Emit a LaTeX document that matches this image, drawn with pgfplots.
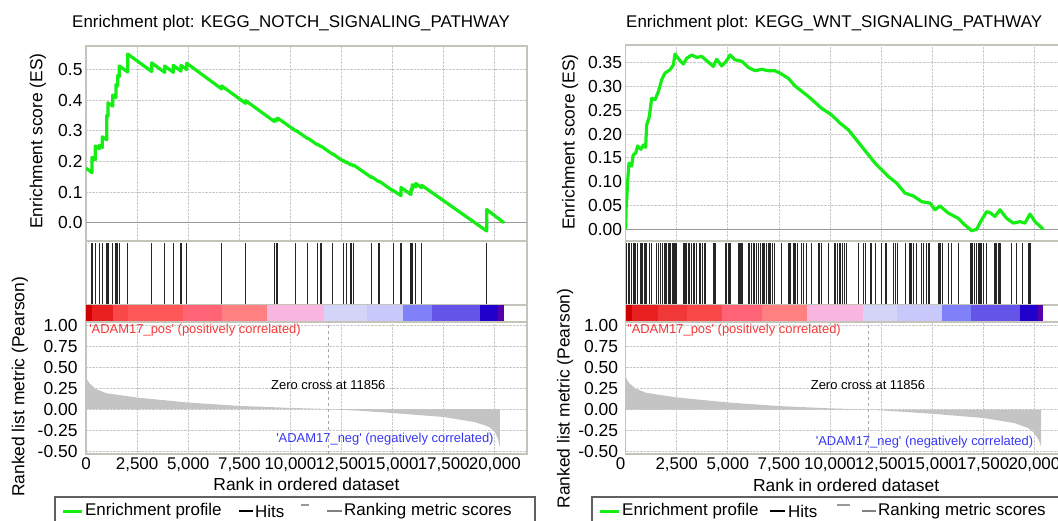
\documentclass[border=0pt]{standalone}
\usepackage{pgfplots}
\pgfplotsset{compat=1.18}
\usepackage{fontspec}
\setmainfont{Liberation Sans}

\definecolor{framecol}{RGB}{196,196,186}
\definecolor{gridcol}{RGB}{200,200,200}
\definecolor{esgreen}{RGB}{20,238,20}
\definecolor{metricgray}{RGB}{196,196,196}
\definecolor{posred}{RGB}{245,55,55}
\definecolor{negblue}{RGB}{55,55,245}
\definecolor{cb1}{RGB}{208,0,0}
\definecolor{cb2}{RGB}{232,32,32}
\definecolor{cb3}{RGB}{240,56,56}
\definecolor{cb4}{RGB}{248,72,72}
\definecolor{cb5}{RGB}{255,88,88}
\definecolor{cb6}{RGB}{255,100,118}
\definecolor{cb7}{RGB}{255,128,128}
\definecolor{cb8}{RGB}{248,182,225}
\definecolor{cb9}{RGB}{212,212,248}
\definecolor{cb10}{RGB}{200,200,250}
\definecolor{cb11}{RGB}{128,128,248}
\definecolor{cb12}{RGB}{100,84,232}
\definecolor{cb13}{RGB}{34,0,204}
\definecolor{cb14}{RGB}{85,0,170}

\newcommand\cbseg[3]{\addplot[fill=#3,draw=none] coordinates {(#1,1)(#2,1)} \closedcycle;}
\newcommand\fs[1]{\fontsize{#1}{#1}\selectfont}

\pgfplotsset{
  /pgf/number format/assume math mode=true,
  gsea/.style={
    scale only axis, width=441bp, xmin=0, xmax=21575,
    axis line style={draw=framecol, line width=1.5bp},
    tick style={draw=none},
    xtick={0,2500,...,20000},
    grid=major,
    major grid style={densely dotted, gridcol, line width=0.8bp},
    yticklabel style={font=\fs{17.5}},
    xticklabel style={font=\fs{17}},
    label style={font=\fs{17.5}},
    title style={font=\fs{17}},
    scaled ticks=false,
  },
  hitsax/.style={gsea, height=64bp, ymin=0, ymax=1.03, xtick=\empty, ytick=\empty, grid=none},
  cbax/.style={gsea, height=17bp, ymin=0, ymax=1, xtick=\empty, ytick=\empty, grid=none},
}

\begin{document}
\begin{tikzpicture}

%% ---------------- left panel: NOTCH ----------------
\begin{axis}[gsea, at={(86bp,-46bp)}, anchor=north west, height=195bp,
    ymin=-0.0596, ymax=0.576,
    ytick={0,0.1,0.2,0.3,0.4,0.5},
    yticklabel style={/pgf/number format/.cd, fixed, fixed zerofill, precision=1},
    xticklabels={},
    ylabel={Enrichment score (ES)},
    ylabel style={at={(axis description cs:-0.109,0.513)}, anchor=center},
    title={Enrichment plot: KEGG\_NOTCH\_SIGNALING\_PATHWAY},
    title style={at={(axis description cs:0.465,1)}, anchor=center, yshift=17bp}]
  \addplot[gray!80, line width=1.5bp] coordinates {(0,0)(21575,0)};
  \addplot[esgreen, line width=3.2bp, line join=round] coordinates {
    (0,0.178)
    (294,0.163)(294,0.213)(457,0.205)(457,0.250)(652,0.241)(652,0.252)
    (799,0.245)(799,0.280)(1011,0.270)(1011,0.350)(1076,0.347)(1076,0.391)
    (1305,0.380)(1305,0.416)(1468,0.408)(1468,0.450)(1549,0.446)(1549,0.480)
    (1631,0.476)(1631,0.511)(2038,0.491)(2038,0.550)(3212,0.493)(3212,0.521)
    (3848,0.490)(3848,0.511)(4272,0.490)(4272,0.513)(4647,0.494)(4647,0.513)
    (4925,0.499)(4925,0.520)(6637,0.436)(6637,0.446)(7811,0.389)(7811,0.398)
    (9213,0.330)(9213,0.336)(9300,0.332)(9300,0.338)(9376,0.334)(9376,0.341)
    (10270,0.299)(10270,0.301)(10844,0.274)(10844,0.276)(11317,0.254)(11317,0.256)
    (11496,0.248)(11496,0.250)(12067,0.223)(12067,0.225)(12589,0.200)(12589,0.203)
    (12752,0.195)(12752,0.198)(12964,0.188)(12964,0.191)(13094,0.185)(13094,0.188)
    (13975,0.147)(13975,0.150)(14333,0.133)(14333,0.136)(15035,0.103)(15035,0.105)
    (15410,0.088)(15410,0.115)(15899,0.092)(15899,0.110)(15964,0.107)(15964,0.124)
    (16127,0.116)(16127,0.128)(16421,0.114)(16421,0.122)(19601,-0.027)(19601,0.043)
    (20450,0.0)};
\end{axis}

\begin{axis}[hitsax, at={(86bp,-241bp)}, anchor=north west]
  \addplot[ycomb, black!85, line width=1.1bp, mark=none] coordinates {
    (294,1)(457,1)(652,1)(799,1)(1011,1)(1076,1)(1305,1)(1468,1)(1549,1)(1631,1)
    (2038,1)(3212,1)(3848,1)(4272,1)(4647,1)(4925,1)(6637,1)(7811,1)(9213,1)(9300,1)
    (9376,1)(10270,1)(10844,1)(11317,1)(11496,1)(12067,1)(12589,1)(12752,1)(12964,1)
    (13094,1)(13975,1)(14333,1)(15035,1)(15410,1)(15899,1)(15964,1)(16127,1)(16421,1)
    (19601,1)};
\end{axis}

\begin{axis}[cbax, at={(86bp,-305bp)}, anchor=north west]
  \cbseg{0}{279}{cb1}
  \cbseg{279}{1321}{cb2}
  \cbseg{1321}{2055}{cb4}
  \cbseg{2055}{4745}{cb5}
  \cbseg{4745}{6653}{cb6}
  \cbseg{6653}{8855}{cb7}
  \cbseg{8855}{11643}{cb8}
  \cbseg{11643}{13747}{cb9}
  \cbseg{13747}{15508}{cb10}
  \cbseg{15508}{16927}{cb11}
  \cbseg{16927}{19275}{cb12}
  \cbseg{19275}{20155}{cb13}
  \cbseg{20155}{20449}{cb14}
\end{axis}

\begin{axis}[gsea, at={(86bp,-322bp)}, anchor=north west, height=132bp,
    ymin=-0.5357, ymax=1.0357,
    ytick={-0.5,-0.25,0,0.25,0.5,0.75,1},
    yticklabel style={/pgf/number format/.cd, fixed, fixed zerofill, precision=2, /tikz/xshift=-5bp},
    xticklabel style={/pgf/number format/1000 sep={,}},
    xlabel={Rank in ordered dataset},
    xlabel style={at={(axis description cs:0.5,0)}, anchor=center, yshift=-30bp},
    ylabel={Ranked list metric (Pearson)},
    ylabel style={at={(axis description cs:-0.150,0.508)}, anchor=center}]
  \addplot[fill=metricgray, draw=none] coordinates {
    (0,0.375)(100,0.33)(200,0.30)(500,0.236)(1000,0.188)(2500,0.136)(5000,0.077)
    (7500,0.037)(10000,0.013)(11856,0)(13500,-0.022)(15000,-0.048)(17500,-0.095)
    (19000,-0.155)(19700,-0.21)(20000,-0.27)(20150,-0.35)(20250,-0.46)} \closedcycle;
  \addplot[gray!70, dashed, line width=0.8bp] coordinates {(11856,-0.5357)(11856,1.0357)};
  \node[font=\fs{13}, anchor=center] at (axis cs:11856,0.29) {Zero cross at 11856};
  \node[font=\fs{13}, text=posred, anchor=west, inner sep=0pt] at (axis cs:150,0.94)
    {\textquotesingle ADAM17\_pos\textquotesingle{} (positively correlated)};
  \node[font=\fs{13}, text=negblue, anchor=east, inner sep=0pt] at (axis cs:19950,-0.36)
    {\textquotesingle ADAM17\_neg\textquotesingle{} (negatively correlated)};
\end{axis}

%% ---------------- right panel: WNT ----------------
\begin{axis}[gsea, at={(625.6bp,-45bp)}, anchor=north west, height=196bp,
    ymin=-0.0246, ymax=0.387,
    ytick={0,0.05,0.1,0.15,0.2,0.25,0.3,0.35},
    yticklabel style={/pgf/number format/.cd, fixed, fixed zerofill, precision=2},
    xticklabels={},
    ylabel={Enrichment score (ES)},
    ylabel style={at={(axis description cs:-0.126,0.505)}, anchor=center},
    title={Enrichment plot: KEGG\_WNT\_SIGNALING\_PATHWAY},
    title style={at={(axis description cs:0.473,1)}, anchor=center, yshift=16bp}]
  \addplot[gray!80, line width=1.5bp] coordinates {(0,0)(21575,0)};
  \addplot[esgreen, line width=3.2bp, line join=round] coordinates {
    (0,0)(30,0.05)(52,0.062)(100,0.100)(166,0.139)(297,0.133)(370,0.156)(492,0.160)
    (590,0.175)(753,0.168)(868,0.177)(980,0.172)(1031,0.219)(1161,0.237)(1275,0.275)
    (1438,0.272)(1601,0.289)(1764,0.314)(1927,0.328)(2172,0.335)(2335,0.345)
    (2417,0.368)(2662,0.354)(2825,0.347)(2988,0.359)(3232,0.366)(3477,0.361)
    (3721,0.363)(3966,0.354)(4292,0.342)(4455,0.357)(4699,0.343)(4912,0.352)
    (5107,0.366)(5352,0.356)(5678,0.353)(6004,0.340)(6330,0.333)(6656,0.336)
    (6982,0.333)(7308,0.333)(7552,0.328)(7961,0.317)(8287,0.301)(8939,0.279)
    (9592,0.254)(10081,0.240)(10488,0.223)(10896,0.209)(11548,0.174)(12200,0.139)
    (12853,0.111)(13260,0.097)(13668,0.076)(14076,0.070)(14484,0.058)(14891,0.055)
    (15136,0.041)(15380,0.049)(15788,0.034)(16277,0.023)(16603,0.009)(16929,-0.003)
    (17174,0.000)(17419,0.020)(17663,0.037)(17826,0.035)(18071,0.027)(18316,0.041)
    (18642,0.023)(18968,0.013)(19294,0.016)(19538,0.013)(19783,0.032)(20028,0.016)
    (20436,0.0)};
\end{axis}

\begin{axis}[hitsax, at={(625.6bp,-241bp)}, anchor=north west]
  \addplot[ycomb, black!85, line width=1.1bp, mark=none] coordinates {
    (52,1)(166,1)(297,1)(411,1)(492,1)(590,1)(753,1)(835,1)(949,1)(1031,1)(1161,1)
    (1275,1)(1520,1)(1601,1)(1715,1)(1813,1)(1927,1)(2009,1)(2090,1)(2172,1)(2286,1)
    (2351,1)(2417,1)(2466,1)(2857,1)(2955,1)(3102,1)(3232,1)(3346,1)(3477,1)(3640,1)
    (3754,1)(3884,1)(4292,1)(4373,1)(4912,1)(5026,1)(5107,1)(5548,1)(5645,1)(5727,1)
    (6037,1)(6167,1)(6281,1)(6412,1)(6493,1)(6607,1)(6689,1)(6770,1)(6901,1)(6982,1)
    (7064,1)(7178,1)(7276,1)(7635,1)(7961,1)(8042,1)(8238,1)(8320,1)(8401,1)(8613,1)
    (8695,1)(8858,1)(9102,1)(9461,1)(9592,1)(9918,1)(10244,1)(10374,1)(10488,1)
    (10603,1)(10700,1)(10815,1)(11385,1)(11630,1)(11744,1)(12005,1)(12233,1)(12527,1)
    (12739,1)(13097,1)(13212,1)(13310,1)(13701,1)(13913,1)(13994,1)(14092,1)(14239,1)
    (14484,1)(14565,1)(14728,1)(14842,1)(15299,1)(15380,1)(15495,1)(15788,1)(15951,1)
    (16277,1)(16897,1)(16962,1)(17060,1)(17174,1)(17256,1)(17337,1)(17419,1)(17500,1)
    (17663,1)(18038,1)(18120,1)(18234,1)(18316,1)(18886,1)(19131,1)(19408,1)(19702,1)
    (19783,1)};
\end{axis}

\begin{axis}[cbax, at={(625.6bp,-305bp)}, anchor=north west]
  \cbseg{0}{298}{cb1}
  \cbseg{298}{1585}{cb2}
  \cbseg{1585}{2989}{cb3}
  \cbseg{2989}{4701}{cb4}
  \cbseg{4701}{6658}{cb6}
  \cbseg{6658}{8860}{cb7}
  \cbseg{8860}{11628}{cb8}
  \cbseg{11628}{13262}{cb9}
  \cbseg{13262}{15464}{cb10}
  \cbseg{15464}{16897}{cb11}
  \cbseg{16897}{19294}{cb12}
  \cbseg{19294}{20189}{cb13}
  \cbseg{20189}{20434}{cb14}
\end{axis}

\begin{axis}[gsea, at={(625.6bp,-322bp)}, anchor=north west, height=132bp,
    ymin=-0.53, ymax=1.045,
    ytick={-0.5,-0.25,0,0.25,0.5,0.75,1},
    yticklabel style={/pgf/number format/.cd, fixed, fixed zerofill, precision=2, /tikz/xshift=-4bp},
    xticklabels={{\hspace*{-10bp}\raisebox{-4bp}{0}},{2,500},{5,000},{7,500},{10,000},{12,500},{15,000},{17,500},{20,000}},
    xlabel={Rank in ordered dataset},
    xlabel style={at={(axis description cs:0.5,0)}, anchor=center, yshift=-31bp},
    ylabel={Ranked list metric (Pearson)},
    ylabel style={at={(axis description cs:-0.137,0.42)}, anchor=center}]
  \addplot[fill=metricgray, draw=none] coordinates {
    (0,0.40)(100,0.34)(200,0.31)(500,0.25)(1000,0.20)(2500,0.145)(5000,0.085)
    (7500,0.042)(10000,0.015)(11856,0)(13500,-0.025)(15000,-0.05)(17500,-0.10)
    (19000,-0.16)(19700,-0.22)(20000,-0.28)(20200,-0.36)(20330,-0.44)} \closedcycle;
  \addplot[gray!70, dashed, line width=0.8bp] coordinates {(11856,-0.53)(11856,1.045)};
  \node[font=\fs{13}, anchor=center] at (axis cs:11856,0.29) {Zero cross at 11856};
  \node[font=\fs{13}, text=posred, anchor=west, inner sep=0pt] at (axis cs:80,0.95)
    {"ADAM17\_pos\textquotesingle{} (positively correlated)};
  \node[font=\fs{13}, text=negblue, anchor=east, inner sep=0pt] at (axis cs:19950,-0.39)
    {\textquotesingle ADAM17\_neg\textquotesingle{} (negatively correlated)};
\end{axis}

%% ---------------- legends ----------------
\begin{scope}[font=\fs{17}]
  \draw[gray!75!black, line width=1.3bp] (55bp,-497bp) rectangle (535bp,-560bp);
  \draw[esgreen, line width=3bp] (63bp,-511bp) -- (82bp,-511bp);
  \node[anchor=west, inner sep=0pt] at (85bp,-511bp) {Enrichment profile};
  \draw[black, line width=2.5bp] (239bp,-511bp) -- (253bp,-511bp);
  \node[anchor=west, inner sep=0pt] at (255bp,-511bp) {Hits};
  \draw[gray!80, line width=2bp] (301bp,-505bp) -- (309bp,-505bp);
  \draw[gray, line width=2.5bp] (327bp,-511bp) -- (342bp,-511bp);
  \node[anchor=west, inner sep=0pt] at (344bp,-511bp) {Ranking metric scores};

  \draw[gray!75!black, line width=1.3bp] (592bp,-497bp) rectangle (1100bp,-560bp);
  \draw[esgreen, line width=3bp] (600bp,-511bp) -- (619bp,-511bp);
  \node[anchor=west, inner sep=0pt] at (622bp,-511bp) {Enrichment profile};
  \draw[black, line width=2.5bp] (770bp,-511bp) -- (785bp,-511bp);
  \node[anchor=west, inner sep=0pt] at (788bp,-511bp) {Hits};
  \draw[gray!80, line width=2bp] (837bp,-505bp) -- (850bp,-505bp);
  \draw[gray, line width=2.5bp] (862bp,-511bp) -- (876bp,-511bp);
  \node[anchor=west, inner sep=0pt] at (878bp,-511bp) {Ranking metric scores};
\end{scope}

\pgfresetboundingbox
\useasboundingbox (0,-521bp) rectangle (1058bp,0);
\end{tikzpicture}
\end{document}
